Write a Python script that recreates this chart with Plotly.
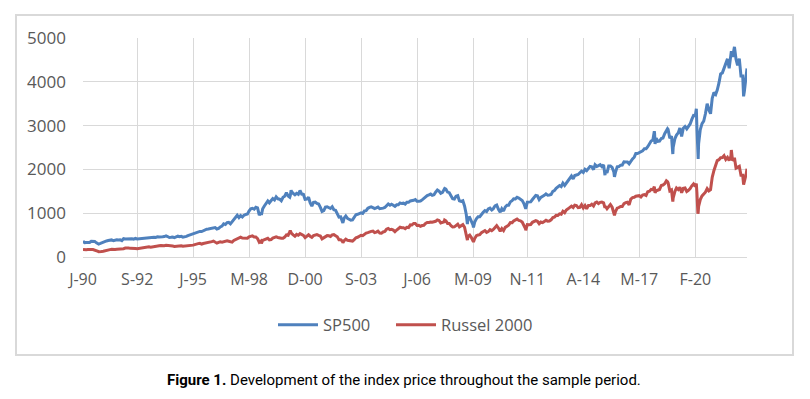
import pandas as pd
import plotly.graph_objects as go

# Month-end closes, Jan 1990 .. Jul 2022 (one row per year)
sp500_monthly = [
    329, 332, 340, 331, 361, 358, 356, 323, 306, 304, 322, 330,
    344, 367, 375, 375, 390, 371, 388, 395, 388, 392, 375, 417,
    409, 413, 404, 415, 415, 408, 424, 414, 418, 419, 431, 436,
    439, 443, 452, 440, 450, 451, 448, 464, 459, 468, 462, 466,
    482, 467, 446, 451, 457, 444, 458, 475, 463, 472, 454, 459,
    470, 487, 501, 515, 533, 545, 562, 562, 584, 582, 605, 616,
    636, 640, 646, 654, 669, 671, 640, 652, 687, 705, 757, 741,
    786, 791, 757, 801, 848, 885, 954, 899, 947, 915, 955, 970,
    980, 1049, 1102, 1112, 1091, 1134, 1121, 957, 1017, 1099, 1164, 1229,
    1280, 1238, 1286, 1335, 1302, 1373, 1329, 1320, 1283, 1363, 1389, 1469,
    1394, 1366, 1499, 1452, 1421, 1455, 1431, 1518, 1437, 1429, 1315, 1320,
    1366, 1240, 1160, 1249, 1256, 1224, 1211, 1134, 1041, 1060, 1139, 1148,
    1130, 1107, 1147, 1077, 1067, 990, 912, 916, 815, 886, 936, 880,
    856, 841, 848, 917, 964, 975, 990, 1008, 996, 1051, 1058, 1112,
    1131, 1145, 1126, 1107, 1121, 1141, 1102, 1104, 1115, 1130, 1174, 1212,
    1181, 1204, 1181, 1157, 1192, 1191, 1234, 1220, 1229, 1207, 1249, 1248,
    1280, 1281, 1295, 1311, 1270, 1270, 1277, 1304, 1336, 1378, 1401, 1418,
    1438, 1407, 1421, 1482, 1531, 1503, 1455, 1474, 1527, 1549, 1481, 1468,
    1379, 1331, 1323, 1386, 1400, 1280, 1267, 1283, 1166, 969, 896, 903,
    826, 735, 798, 873, 919, 919, 987, 1021, 1057, 1036, 1096, 1115,
    1074, 1104, 1169, 1187, 1089, 1031, 1102, 1049, 1141, 1183, 1181, 1258,
    1286, 1327, 1326, 1364, 1345, 1321, 1292, 1219, 1131, 1253, 1247, 1258,
    1312, 1366, 1408, 1398, 1310, 1362, 1379, 1407, 1441, 1412, 1416, 1426,
    1498, 1515, 1569, 1598, 1631, 1606, 1686, 1633, 1682, 1757, 1806, 1848,
    1783, 1859, 1872, 1884, 1924, 1960, 1931, 2003, 1972, 2018, 2068, 2059,
    1995, 2105, 2068, 2086, 2107, 2063, 2104, 1972, 1920, 2079, 2080, 2044,
    1940, 1932, 2060, 2065, 2097, 2099, 2174, 2171, 2168, 2126, 2199, 2239,
    2279, 2364, 2363, 2384, 2412, 2423, 2470, 2472, 2519, 2575, 2648, 2674,
    2824, 2714, 2641, 2648, 2705, 2718, 2816, 2902, 2914, 2712, 2760, 2507,
    2704, 2784, 2834, 2946, 2752, 2942, 2980, 2926, 2977, 3038, 3141, 3231,
    3226, 2954, 2585, 2912, 3044, 3100, 3271, 3500, 3363, 3270, 3622, 3756,
    3714, 3811, 3973, 4181, 4204, 4298, 4395, 4523, 4308, 4605, 4567, 4766,
    4516, 4374, 4530, 4132, 4132, 3785, 4130,
]

russell_monthly = [
    162, 165, 169, 162, 171, 170, 161, 141, 127, 117, 124, 132,
    144, 160, 171, 169, 177, 166, 172, 178, 180, 185, 176, 190,
    205, 211, 204, 197, 200, 188, 195, 189, 194, 201, 217, 221,
    229, 223, 231, 224, 234, 237, 240, 250, 257, 263, 255, 259,
    268, 267, 251, 252, 249, 241, 246, 259, 259, 256, 246, 250,
    246, 257, 261, 266, 271, 283, 299, 305, 311, 296, 309, 316,
    315, 325, 332, 350, 364, 347, 316, 334, 346, 340, 354, 362,
    369, 360, 343, 340, 378, 396, 415, 427, 454, 433, 429, 437,
    430, 461, 480, 482, 456, 457, 419, 337, 363, 378, 398, 422,
    427, 392, 398, 433, 440, 458, 446, 430, 427, 428, 454, 504,
    496, 578, 540, 506, 476, 517, 496, 534, 518, 493, 441, 484,
    508, 475, 451, 487, 500, 512, 494, 478, 414, 439, 473, 488,
    483, 470, 506, 510, 487, 462, 393, 393, 363, 374, 407, 383,
    373, 362, 364, 398, 440, 449, 477, 497, 488, 529, 547, 556,
    580, 585, 590, 559, 568, 591, 548, 545, 572, 582, 633, 652,
    624, 634, 615, 579, 616, 639, 680, 667, 667, 646, 679, 673,
    733, 730, 765, 764, 721, 725, 700, 718, 725, 766, 787, 788,
    800, 793, 800, 815, 847, 834, 777, 792, 805, 828, 767, 766,
    713, 686, 688, 714, 748, 689, 714, 739, 679, 537, 473, 499,
    443, 389, 422, 487, 501, 508, 557, 572, 604, 562, 579, 625,
    602, 628, 679, 716, 663, 609, 650, 602, 676, 703, 727, 784,
    781, 823, 844, 865, 835, 827, 797, 727, 644, 741, 737, 741,
    792, 810, 830, 816, 761, 798, 786, 812, 837, 818, 822, 849,
    902, 911, 951, 947, 984, 977, 1045, 1011, 1074, 1100, 1143, 1163,
    1131, 1183, 1173, 1127, 1135, 1193, 1120, 1175, 1102, 1173, 1173, 1205,
    1165, 1234, 1253, 1220, 1247, 1254, 1238, 1159, 1101, 1162, 1198, 1136,
    1035, 1034, 1114, 1130, 1155, 1152, 1220, 1240, 1252, 1191, 1322, 1357,
    1362, 1387, 1386, 1400, 1370, 1415, 1425, 1405, 1490, 1502, 1544, 1535,
    1575, 1512, 1529, 1542, 1634, 1643, 1671, 1741, 1697, 1511, 1533, 1349,
    1499, 1576, 1540, 1591, 1466, 1567, 1575, 1495, 1523, 1562, 1625, 1668,
    1614, 1476, 1153, 1311, 1394, 1441, 1480, 1561, 1508, 1538, 1820, 1975,
    2073, 2202, 2221, 2266, 2269, 2311, 2226, 2274, 2204, 2297, 2199, 2245,
    2028, 2048, 2070, 1864, 1864, 1708, 1885,
]

# Intra-month turning points
extra_dates = [
    "1990-01-02", "1990-10-11", "1998-10-08", "2000-03-09", "2000-03-24",
    "2002-10-09", "2007-10-09", "2008-11-20", "2009-03-09", "2010-07-02",
    "2011-10-03", "2015-08-25", "2016-02-11", "2018-01-26", "2018-02-08",
    "2018-09-20", "2018-12-24", "2020-02-19", "2020-03-18", "2020-03-23",
    "2021-11-08", "2022-01-03", "2022-06-16", "2022-08-16",
]
extra_sp500 = [
    359, 295, 960, 1401, 1527,
    777, 1565, 752, 677, 1022,
    1099, 1868, 1829, 2873, 2581,
    2930, 2351, 3386, 2398, 2237,
    4701, 4797, 3667, 4305,
]
extra_russell = [
    171, 120, 310, 606, 560,
    327, 845, 385, 343, 588,
    609, 1123, 953, 1608, 1463,
    1720, 1267, 1678, 991, 1014,
    2442, 2268, 1650, 2014,
]

tick_dates = ["1990-01-02", "1992-09-01", "1995-06-01", "1998-03-01", "2000-12-01",
              "2003-09-01", "2006-06-01", "2009-03-01", "2011-11-01", "2014-08-01",
              "2017-05-01", "2020-02-01"]
tick_labels = ["J-90", "S-92", "J-95", "M-98", "D-00", "S-03", "J-06", "M-09",
               "N-11", "A-14", "M-17", "F-20"]
y_ticks = [0, 1000, 2000, 3000, 4000, 5000]

try:
    month_ends = pd.date_range("1990-01-31", periods=len(sp500_monthly), freq="ME")
except Exception:
    month_ends = pd.date_range("1990-01-31", periods=len(sp500_monthly), freq="M")

df = pd.concat([
    pd.DataFrame({"date": month_ends, "sp": sp500_monthly, "ru": russell_monthly}),
    pd.DataFrame({"date": pd.to_datetime(extra_dates), "sp": extra_sp500, "ru": extra_russell}),
]).sort_values("date")

BLUE = "#4F81BD"
RED = "#C0504D"
GRID = "#D9D9D9"
TXT = "#595959"
FONT = "Open Sans, Noto Sans, sans-serif"

fig = go.Figure()
fig.add_trace(go.Scatter(x=df["date"], y=df["sp"], mode="lines", name="SP500",
                         line=dict(color=BLUE, width=3), legend="legend"))
fig.add_trace(go.Scatter(x=df["date"], y=df["ru"], mode="lines", name="Russel 2000",
                         line=dict(color=RED, width=3), legend="legend2"))

L, R, T, B = 83, 747, 38, 257
W, H = 810, 399
pw, ph = R - L, B - T

def px(x):
    return (x - L) / pw

def py(y):
    return (B - y) / ph

legend_common = dict(orientation="h", yanchor="middle", y=py(325), xanchor="left",
                     font=dict(family=FONT, size=16.5, color=TXT), itemwidth=40,
                     bgcolor="rgba(0,0,0,0)", borderwidth=0)

fig.update_layout(
    width=W, height=H,
    margin=dict(l=L, r=W - R, t=T, b=H - B, pad=0),
    paper_bgcolor="white", plot_bgcolor="white",
    font=dict(family=FONT, size=16, color=TXT),
    showlegend=True,
    legend=dict(x=px(273), **legend_common),
    legend2=dict(x=px(391), **legend_common),
    xaxis=dict(type="date", range=["1990-01-02", "2022-08-16"],
               tickvals=tick_dates, ticktext=tick_labels, tickangle=0,
               showgrid=True, gridcolor=GRID, gridwidth=1,
               showline=True, linecolor=GRID, linewidth=1,
               ticks="", ticklabelstandoff=8, zeroline=False,
               tickfont=dict(family=FONT, size=16, color=TXT)),
    yaxis=dict(range=[0, 5000], tickvals=y_ticks, showgrid=True, gridcolor=GRID,
               gridwidth=1, zeroline=False, showline=False, ticks="",
               ticklabelstandoff=16,
               tickfont=dict(family=FONT, size=17, color=TXT)),
    shapes=[dict(type="rect", xref="paper", yref="paper",
                 x0=px(16), x1=px(793), y0=py(355), y1=py(15),
                 line=dict(color=GRID, width=2), fillcolor="rgba(0,0,0,0)", layer="below")],
    annotations=[dict(xref="paper", yref="paper", x=px(404), y=py(380),
                      xanchor="center", yanchor="middle", showarrow=False,
                      text="<b>Figure 1.</b> Development of the index price throughout the sample period.",
                      font=dict(family="Roboto, sans-serif", size=15, color="black"))],
)

fig.write_html("out.html", config={"displayModeBar": False},
               post_script="document.body.style.margin='0';")
